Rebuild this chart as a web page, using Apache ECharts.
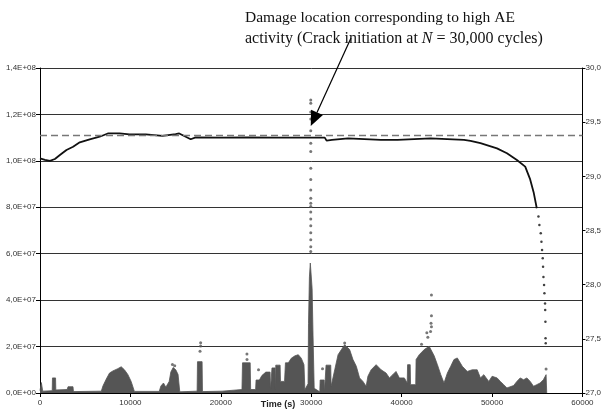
<!DOCTYPE html>
<html>
<head>
<meta charset="utf-8">
<script src="https://cdn.jsdelivr.net/npm/echarts@6/dist/echarts.min.js"></script>
<style>
body{margin:0;background:#fff;}
#main{width:604px;height:412px;}
</style>
</head>
<body>
<div id="main"></div>
<script>
// upper curve (left axis, values in 1E+06)
var lineTime = [0,550,1100,1650,2200,2930,3660,4400,5500,6600,7500,8800,9900,11700,13550,15000,15400,16120,16670,17220,20000,23000,26000,28570,31500,31700,32300,34070,37700,39560,43200,46900,47620,48720,50550,51650,52750,53670,54220,54600,54950];
var lineValue = [101.1,100.4,100.0,100.8,102.5,104.7,106.1,108.0,109.3,110.4,111.8,111.8,111.4,111.4,110.8,111.5,111.8,110.4,109.3,110.1,110.0,110.1,110.0,110.0,110.0,108.7,109.0,109.7,109.0,109.0,109.7,109.0,108.6,107.6,105.4,103.3,100.4,97.5,92.0,86.5,79.6];
// sparse points of the final drop
var dropTime = [55135,55240,55390,55465,55535,55610,55645,55685,55755,55795,55865,55880,55905,55920,55940];
var dropValue = [76.0,72.4,68.8,65.2,61.6,58.0,54.4,50.0,46.5,43.0,38.6,35.8,30.7,23.6,21.4];
// AE activity envelope
var aeTime = [0,150,300,1350,1380,1720,1750,3000,3100,3650,3700,6780,6960,7330,7690,8060,8610,8980,9340,9710,10080,10440,13190,13370,13660,13920,14290,14470,14730,15020,15270,15460,17380,17420,17930,17970,20140,20200,22340,22400,23250,23300,23850,23900,24270,24540,24980,25450,25500,25620,25660,26000,26040,26080,26560,26600,27050,27150,27470,27800,28200,28570,28900,29200,29300,29650,29700,29800,29900,30000,30100,30200,30330,30950,30990,31430,31470,31600,31640,32160,32200,32600,32970,33340,33700,34250,34620,34990,35350,35720,36080,36270,36630,37180,37730,38280,38650,39020,39380,39750,40300,40620,40660,40950,40990,41560,41600,41950,42500,43050,43600,43960,44330,44690,45060,45430,45790,46160,46710,47260,47810,48360,48720,49090,49640,50010,50560,50920,51290,51650,52390,52750,53120,53490,53850,54220,54590,54950,55320,55680,55980,56050];
var aeValue = [1.0,4.5,0.8,1.0,6.5,6.5,1.3,1.5,2.7,2.7,0.6,0.8,3.0,6.0,8.6,9.5,10.5,11.3,10.0,8.0,5.0,0.7,0.7,3.0,4.3,2.5,5.0,9.0,11.0,10.0,8.0,0.5,0.8,13.5,13.5,0.6,0.8,1.5,1.5,13.0,13.0,1.5,1.5,5.6,5.6,7.5,9.0,9.0,1.5,1.5,10.8,10.8,1.5,12.0,12.0,5.0,5.0,13.0,13.0,15.0,16.0,16.5,15.0,12.2,1.4,4.0,30,50,56,56,45,25,2,0.5,5.6,5.6,0.5,0.5,12.0,12.0,2.9,10.0,16.5,18.7,20.8,18.7,14.4,11.5,6.5,5.0,2.9,7.2,10.0,12.2,10.0,8.6,6.5,7.9,9.3,6.5,6.5,4.3,12.2,12.2,3.6,3.6,14.4,16.5,18.7,20.1,16.0,12.2,7.9,4.3,8.6,11.5,14.4,15.1,11.5,9.3,10.0,10.0,6.5,7.9,5.0,7.2,6.5,5.0,3.6,2.2,3.2,5.0,6.5,5.7,6.5,5.0,2.9,3.6,4.3,5.7,7.9,0];
// isolated AE points above the envelope
var aeDotTime = [29950,29950,29950,29950,29950,29950,29950,29950,29950,29950,29950,29950,29950,29950,29950,29950,29950,29950,29950,29950,17770,17770,17700,22890,22900,24170,14650,14900,31250,43300,43300,43250,43300,43200,42790,42900,42200,33700,55980];
var aeDotValue = [61,63,66,69,72,75,78,80.3,81.7,83.9,87.5,92,96.8,104,107.6,113,118,121,124.8,126.2,21.7,20.3,18.0,16.8,14.4,10.0,12.3,11.7,10.5,42.2,33.3,30.0,28.5,26.5,26.0,24.0,21.0,21.5,10.3];
var refLevel = 111.1;
var arrowTip = [29950, 115];

function pairs(t, v) {
	var out = [];
	for (var i = 0; i < t.length; i++) {
		out.push([t[i], v[i] * 1e6]);
	}
	return out;
}

function sciLabel(v) {
	if (v == 0) return '0,0E+00';
	var e = Math.floor(Math.log10(v) + 1e-9);
	var m = (v / Math.pow(10, e)).toFixed(1).replace('.', ',');
	return m + 'E+' + (e < 10 ? '0' + e : e);
}

var myChart = echarts.init(document.getElementById('main'));
var option = {
	animation: false,
	grid: {left: 40, right: 18, top: 68, bottom: 19, containLabel: false},
	xAxis: {
		type: 'value', min: 0, max: 60000, interval: 10000,
		axisLine: {lineStyle: {color: '#000', width: 1}},
		axisTick: {length: 4, lineStyle: {color: '#000'}},
		axisLabel: {fontSize: 8, color: '#333', fontFamily: 'Liberation Sans', margin: 6,
			formatter: function (v) { return String(v); }},
		splitLine: {show: false}
	},
	yAxis: [
		{
			type: 'value', min: 0, max: 1.4e8, interval: 2e7,
			axisLine: {show: true, lineStyle: {color: '#000', width: 1}},
			axisTick: {show: true, length: 4, lineStyle: {color: '#000'}},
			axisLabel: {fontSize: 8, color: '#333', fontFamily: 'Liberation Sans', margin: 4, formatter: sciLabel},
			splitLine: {lineStyle: {color: '#333', width: 1}}
		},
		{
			type: 'value', position: 'right', min: 27, max: 30, interval: 0.5,
			axisLine: {show: true, lineStyle: {color: '#000', width: 1}},
			axisTick: {show: true, length: 3, lineStyle: {color: '#000'}},
			axisLabel: {fontSize: 8, color: '#333', fontFamily: 'Liberation Sans', margin: 3,
				formatter: function (v) { return v.toFixed(1).replace('.', ','); }},
			splitLine: {show: false}
		}
	],
	series: [
		{
			name: 'AE', type: 'line', symbol: 'none', z: 2,
			data: pairs(aeTime, aeValue),
			lineStyle: {color: '#555', width: 0.8},
			areaStyle: {color: '#555', opacity: 1}
		},
		{
			name: 'AE points', type: 'scatter', symbolSize: 3, z: 2,
			data: pairs(aeDotTime, aeDotValue),
			itemStyle: {color: '#555'}
		},
		{
			name: 'curve', type: 'line', symbol: 'none', z: 3,
			data: pairs(lineTime, lineValue),
			lineStyle: {color: '#111', width: 1.8},
			markLine: {
				silent: true, symbol: 'none', label: {show: false},
				lineStyle: {color: '#777', type: [7, 4], width: 1.4},
				data: [{yAxis: refLevel * 1e6}]
			}
		},
		{
			name: 'drop', type: 'scatter', symbolSize: 2.5, z: 3,
			data: pairs(dropTime, dropValue),
			itemStyle: {color: '#111'}
		}
	]
};
myChart.setOption(option);

// annotation arrow + text
var tip = myChart.convertToPixel({xAxisIndex: 0, yAxisIndex: 0}, [arrowTip[0], arrowTip[1] * 1e6]);
var start = [351, 38];
var dx = tip[0] - start[0], dy = tip[1] - start[1];
var len = Math.sqrt(dx * dx + dy * dy);
var ux = dx / len, uy = dy / len;
var bx = tip[0] - ux * 15, by = tip[1] - uy * 15;
myChart.setOption({
	graphic: [
		{type: 'line', shape: {x1: start[0], y1: start[1], x2: bx, y2: by}, style: {stroke: '#000', lineWidth: 1.2}, z: 10},
		{type: 'polygon', shape: {points: [[tip[0], tip[1]], [bx - uy * 6.5, by + ux * 6.5], [bx + uy * 6.5, by - ux * 6.5]]}, style: {fill: '#000'}, z: 10},
		{
			type: 'text', left: 245, top: 10, z: 10,
			style: {text: 'Damage location corresponding to high AE', fontSize: 15.5, fontFamily: 'Liberation Serif', fill: '#111'}
		},
		{
			type: 'text', left: 245, top: 31, z: 10,
			style: {
				text: 'activity (Crack initiation at {i|N} = 30,000 cycles)',
				fontSize: 16, fontFamily: 'Liberation Serif', fill: '#111',
				rich: {i: {fontStyle: 'italic', fontSize: 16, fontFamily: 'Liberation Serif', fill: '#111'}}
			}
		},
		{
			type: 'text', x: 278, y: 405, z: 10,
			style: {text: 'Time (s)', fontSize: 9, fontWeight: 'bold', fontFamily: 'Liberation Sans', fill: '#222', textAlign: 'center', textVerticalAlign: 'middle'}
		}
	]
});
window.addEventListener("resize", function () {
	myChart.resize();
});
</script>
</body>
</html>
